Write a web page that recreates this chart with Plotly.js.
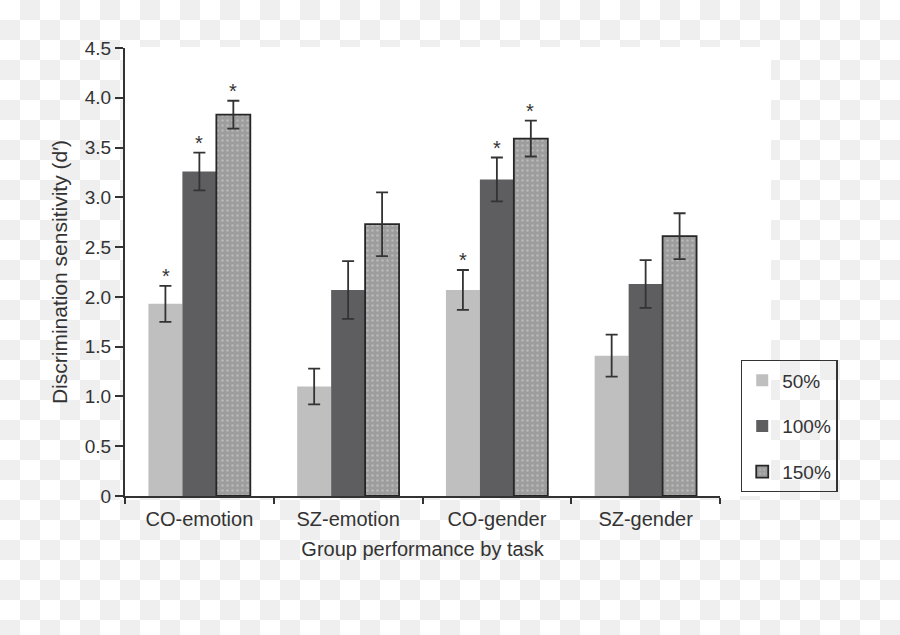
<!DOCTYPE html>
<html>
<head>
<meta charset="utf-8">
<script src="https://cdn.plot.ly/plotly-3.0.1.min.js"></script>
<style>
  html, body { margin: 0; padding: 0; }
  body {
    width: 900px; height: 635px;
    background: repeating-conic-gradient(#efefef 0 25%, #ffffff 0 50%) 0 0 / 40px 40px;
  }
  #chart { width: 900px; height: 635px; }
</style>
</head>
<body>
<div id="chart"></div>
<script>
// ---- data ----
const categories = ['CO-emotion', 'SZ-emotion', 'CO-gender', 'SZ-gender'];
const seriesNames = ['50%', '100%', '150%'];
const values50  = [1.93, 1.10, 2.07, 1.41];
const values100 = [3.26, 2.07, 3.18, 2.13];
const values150 = [3.83, 2.73, 3.59, 2.61];
const err50  = [0.18, 0.18, 0.20, 0.21];
const err100 = [0.19, 0.29, 0.22, 0.24];
const err150 = [0.14, 0.32, 0.18, 0.23];
const sig50  = [true, false, true, false];
const sig100 = [true, false, true, false];
const sig150 = [true, false, true, false];
const yTickVals = [0, 0.5, 1, 1.5, 2, 2.5, 3, 3.5, 4, 4.5];
const yTickText = ['0', '0.5', '1.0', '1.5', '2.0', '2.5', '3.0', '3.5', '4.0', '4.5'];

const ink = '#333333';
const font = 'Liberation Sans, Arial, sans-serif';

function errBar(arr) {
  return { type: 'data', array: arr, visible: true, color: ink, thickness: 1.8, width: 6 };
}

const traces = [
  {
    type: 'bar', name: seriesNames[0], x: categories, y: values50,
    legendgroup: 'a',
    marker: { color: '#bfbfbf', line: { width: 0 } },
    error_y: errBar(err50)
  },
  {
    type: 'bar', name: seriesNames[1], x: categories, y: values100,
    legendgroup: 'b',
    marker: { color: '#5e5e60', line: { width: 0 } },
    error_y: errBar(err100)
  },
  {
    type: 'bar', name: seriesNames[2], x: categories, y: values150,
    legendgroup: 'c',
    marker: {
      color: '#a0a0a0',
      line: { width: 1.8, color: '#262626' },
      pattern: { shape: '.', size: 5, solidity: 0.2, fgcolor: '#b9b9b9', bgcolor: '#9d9d9d' }
    },
    error_y: errBar(err150)
  }
];

// asterisks above significant bars
const barPx = 33.5; // pixel width of one bar
const annotations = [];
const sets = [[values50, err50, sig50, -1], [values100, err100, sig100, 0], [values150, err150, sig150, 1]];
sets.forEach(([vals, errs, sig, k]) => {
  categories.forEach((c, i) => {
    if (sig[i]) {
      annotations.push({
        x: c, y: vals[i] + errs[i], xref: 'x', yref: 'y',
        text: '*', showarrow: false, xshift: k * barPx,
        yanchor: 'bottom', yshift: -3,
        font: { family: font, size: 20, color: ink }
      });
    }
  });
});

const layout = {
  width: 900, height: 635,
  margin: { l: 125, r: 180, t: 48, b: 139, pad: 0 },
  paper_bgcolor: 'rgba(0,0,0,0)',
  plot_bgcolor: '#ffffff',
  barmode: 'group',
  bargap: 0.315,
  bargroupgap: 0,
  showlegend: true,
  legend: {
    x: 1.035, y: 0.3036, xanchor: 'left', yanchor: 'top',
    bgcolor: 'rgba(0,0,0,0)', bordercolor: ink, borderwidth: 1.4,
    font: { family: font, size: 19, color: ink },
    traceorder: 'grouped', tracegroupgap: 18,
    itemwidth: 30
  },
  font: { family: font, size: 19, color: ink },
  xaxis: {
    type: 'category',
    showline: true, linecolor: ink, linewidth: 2,
    ticks: 'outside', tickson: 'boundaries', ticklen: 6, tickwidth: 2, tickcolor: ink,
    ticklabelstandoff: 4,
    showgrid: false, zeroline: false,
    tickfont: { family: font, size: 20, color: ink },
    title: { text: 'Group performance by task', standoff: 13, font: { family: font, size: 20, color: ink } }
  },
  yaxis: {
    range: [0, 4.5],
    tickvals: yTickVals, ticktext: yTickText,
    showline: true, linecolor: ink, linewidth: 2,
    ticks: 'outside', ticklen: 8, tickwidth: 2, tickcolor: ink,
    showgrid: false, zeroline: false,
    tickfont: { family: font, size: 19, color: ink },
    title: { text: 'Discrimination sensitivity (d′)', standoff: 11, font: { family: font, size: 21, color: ink } }
  },
  shapes: [
    {
      type: 'rect', xref: 'paper', yref: 'paper', layer: 'below',
      x0: 0, x1: 1.0857, y0: 0, y1: 1.002,
      fillcolor: '#ffffff', line: { width: 0 }
    }
  ],
  annotations: annotations
};

Plotly.newPlot('chart', traces, layout, { displayModeBar: false, staticPlot: true });
</script>
</body>
</html>
